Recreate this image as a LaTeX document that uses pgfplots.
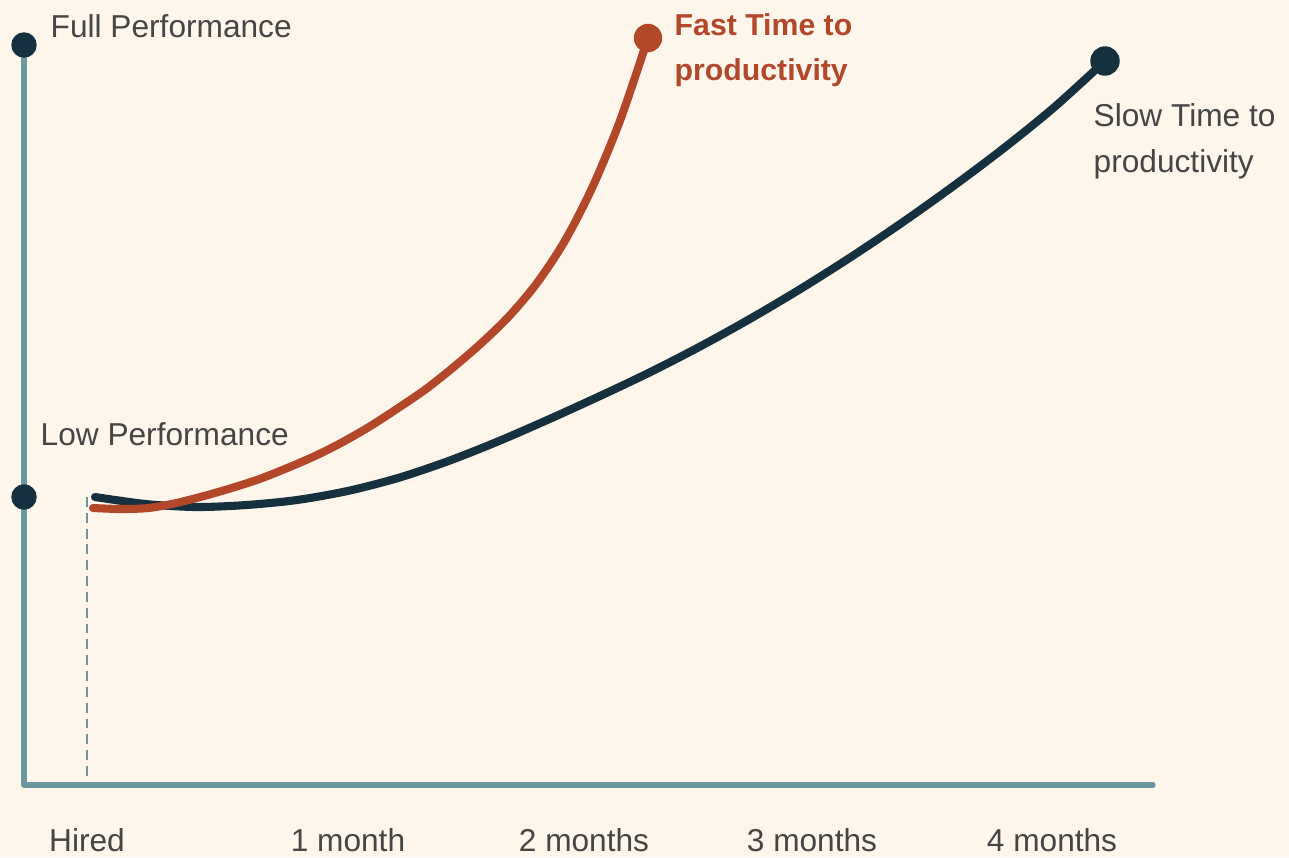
\documentclass[border=0pt]{standalone}
\usepackage{pgfplots}
\pgfplotsset{compat=1.18}
\usepackage{fontspec}
\setmainfont{Liberation Sans}
\usetikzlibrary{backgrounds}
\definecolor{bgc}{HTML}{FEF6EB}
\definecolor{navy}{HTML}{15313F}
\definecolor{rust}{HTML}{B3472A}
\definecolor{teal}{HTML}{6A979D}
\definecolor{txt}{HTML}{454545}
\begin{document}
\begin{tikzpicture}[font=\fontsize{9}{12.8}\selectfont]
\begin{axis}[
  x=0.01cm, y=0.01cm,
  xmin=24, xmax=1153, ymin=72, ymax=812,
  axis x line=bottom, axis y line=left,
  axis line style={-, teal, line width=1.5pt, line cap=round},
  xtick={87,348,584,812,1052},
  xticklabels={Hired,1 month,2 months,3 months,4 months},
  major tick length=0pt,
  ytick=\empty,
  xticklabel style={anchor=base, yshift=-0.66cm, text=txt},
  clip=false,
]
\coordinate (BL) at (axis cs:0,0);
\coordinate (TR) at (axis cs:1289,857);
% hired marker
\addplot[teal, line width=0.75pt, dash pattern=on 2.8pt off 1.7pt] coordinates {(87,360) (87,72)};
% slow
\addplot[navy, line width=2.3pt, line cap=round, smooth] coordinates {
(95,360) (145.5,353) (196,350) (246.5,352) (297,357) (347.5,366) (398,379)
(448.5,396) (499,416) (549.5,438) (600,461) (650.5,485) (701,511) (751.5,539)
(802,569) (852.5,601) (903,635) (953.5,671) (1004,709) (1054.5,750) (1105,796)};
% fast
\addplot[rust, line width=2.3pt, line cap=round, smooth] coordinates {
(93,349) (120.75,348) (148.5,349) (176.25,354) (204,361) (231.75,369) (259.5,378)
(287.25,389) (315,401) (342.75,415) (370.5,431) (398.25,449) (426,468) (453.75,490)
(481.5,514) (509.25,541) (537,574) (564.75,616) (592.5,670) (620.25,737) (648,819)};
% end dots
\addplot[only marks, mark=*, mark size=0.12cm, navy] coordinates {(24,812) (24,360)};
\addplot[only marks, mark=*, mark size=0.135cm, rust] coordinates {(648,819)};
\addplot[only marks, mark=*, mark size=0.14cm, navy] coordinates {(1105,796)};
% labels
\node[anchor=base west, text=txt, inner sep=0] at (axis cs:50,820) {Full Performance};
\node[anchor=base west, text=txt, inner sep=0] at (axis cs:40,412) {Low Performance};
\node[anchor=base west, text=rust, inner sep=0, align=left, font=\fontsize{8.6}{12.8}\selectfont\bfseries] at (axis cs:674,776) {Fast Time to\\productivity};
\node[anchor=base west, text=txt, inner sep=0, align=left] at (axis cs:1093,685) {Slow Time to\\productivity};
\end{axis}
\begin{scope}[on background layer]
\fill[bgc] (BL) rectangle (TR);
\end{scope}
\pgfresetboundingbox
\useasboundingbox (BL) rectangle (TR);
\end{tikzpicture}
\end{document}
